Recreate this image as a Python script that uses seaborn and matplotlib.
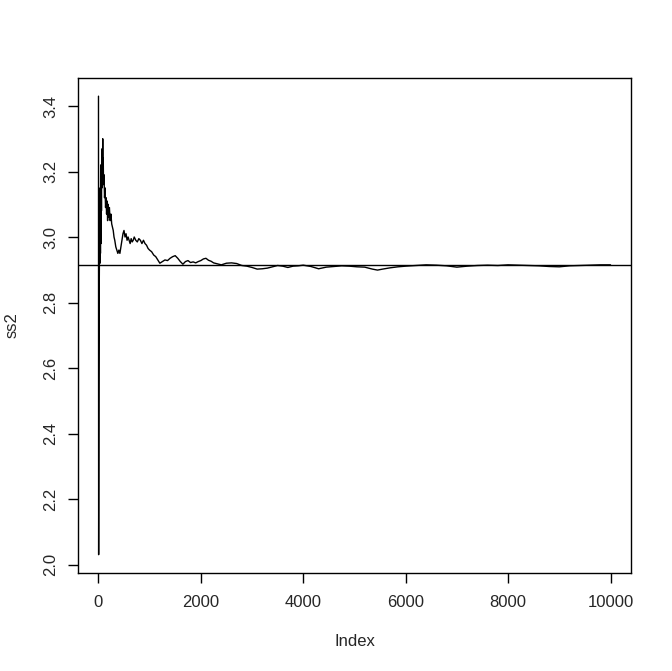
import numpy as np
import pandas as pd
import seaborn as sns
import matplotlib
matplotlib.use("Agg")
import matplotlib.pyplot as plt

# running estimate of the variance
index = [2, 5, 10, 15, 20, 25, 30, 35, 40, 45, 50, 55, 60, 65, 70, 75, 80, 85, 90, 95,
         100, 110, 120, 130, 140, 150, 160, 170, 180, 190, 200, 215, 230, 245, 260, 275,
         290, 305, 320, 340, 360, 380, 400, 420, 440, 460, 480, 500, 520, 540, 560, 580,
         600, 620, 640, 660, 680, 700, 730, 760, 790, 820, 850, 880, 910, 940, 970, 1000,
         1040, 1080, 1120, 1160, 1200, 1250, 1300, 1350, 1400, 1450, 1500, 1550, 1600,
         1650, 1700, 1750, 1800, 1850, 1900, 1950, 2000, 2050, 2100, 2150, 2200, 2250,
         2300, 2400, 2500, 2600, 2700, 2800, 2900, 3000, 3100, 3200, 3300, 3400, 3500,
         3600, 3700, 3800, 3900, 4000, 4150, 4300, 4450, 4600, 4750, 4900, 5050, 5200,
         5350, 5450, 5550, 5700, 5850, 6000, 6200, 6400, 6600, 6800, 7000, 7200, 7400,
         7600, 7800, 8000, 8200, 8400, 8600, 8800, 9000, 9200, 9400, 9600, 9800, 10000]
ss2 = [3.43, 2.03, 2.55, 2.80, 2.91, 3.05, 2.92, 3.15, 2.95, 3.22, 2.98, 3.18, 3.08, 3.25,
       3.15, 3.27, 3.19, 3.30, 3.20, 3.24,
       3.16, 3.19, 3.12, 3.15, 3.09, 3.12, 3.07, 3.11, 3.05, 3.10, 3.06, 3.09, 3.05, 3.07,
       3.04, 3.03,
       3.02, 3.00, 2.99, 2.97, 2.96, 2.95, 2.96, 2.95, 2.97, 2.99, 3.01, 3.02, 3.00, 3.01,
       2.99, 3.00,
       2.99, 2.98, 2.995, 2.985, 2.99, 3.00, 2.99, 2.985, 2.995, 2.99, 2.98, 2.99, 2.98,
       2.975, 2.965, 2.96,
       2.955, 2.945, 2.94, 2.93, 2.92, 2.925, 2.93, 2.928, 2.935, 2.94, 2.943, 2.935, 2.925,
       2.917, 2.925, 2.928, 2.922, 2.924, 2.921, 2.925, 2.928, 2.933, 2.935, 2.929, 2.926,
       2.921,
       2.919, 2.915, 2.92, 2.921, 2.919, 2.913, 2.911, 2.907, 2.902, 2.903, 2.905, 2.909,
       2.913,
       2.911, 2.907, 2.911, 2.912, 2.914, 2.91, 2.903, 2.908, 2.91, 2.912, 2.911, 2.909,
       2.908,
       2.902, 2.899, 2.902, 2.906, 2.909, 2.911, 2.913, 2.915, 2.914, 2.912, 2.908, 2.911,
       2.913,
       2.914, 2.913, 2.915, 2.914, 2.913, 2.912, 2.910, 2.909, 2.912, 2.913, 2.914, 2.915,
       2.915]
true_var = 2.915

df = pd.DataFrame({"Index": index, "ss2": ss2})

sns.set_style("white")
plt.rcParams["font.family"] = ["Liberation Sans", "DejaVu Sans"]
plt.rcParams["font.size"] = 12

fig = plt.figure(figsize=(6.72, 6.71), dpi=100)
ax = fig.add_axes([0.116, 0.146, 0.823, 0.738])

sns.lineplot(data=df, x="Index", y="ss2", color="black", linewidth=1.0, ax=ax)
ax.axhline(true_var, color="black", linewidth=1.0)

# R style 4% padding
xr = max(index) - 1
ax.set_xlim(1 - 0.04 * xr, max(index) + 0.04 * xr)
yr = max(ss2) - min(ss2)
ax.set_ylim(min(ss2) - 0.04 * yr, max(ss2) + 0.04 * yr)

ax.set_xticks([0, 2000, 4000, 6000, 8000, 10000])
ax.set_yticks([2.0, 2.2, 2.4, 2.6, 2.8, 3.0, 3.2, 3.4])
ax.set_yticklabels(["2.0", "2.2", "2.4", "2.6", "2.8", "3.0", "3.2", "3.4"],
                   rotation=90, va="center")
ax.tick_params(axis="both", direction="out", length=7, width=1, color="black",
               labelsize=12, bottom=True, left=True)
ax.tick_params(axis="x", pad=9)
ax.tick_params(axis="y", pad=7)
for s in ax.spines.values():
    s.set_color("black")
    s.set_linewidth(1.0)

ax.set_xlabel("Index", fontsize=12, labelpad=17)
ax.set_ylabel("ss2", fontsize=12, labelpad=17)

fig.savefig("out.png", dpi=100, facecolor="white")
